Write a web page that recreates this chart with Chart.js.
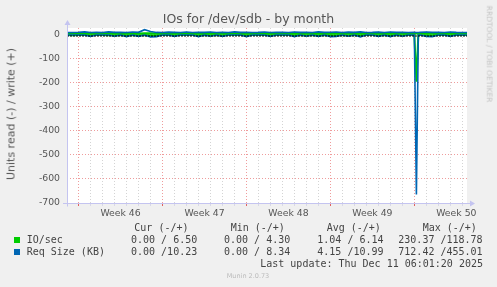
<!DOCTYPE html>
<html><head><meta charset="utf-8">
<script src="https://cdn.jsdelivr.net/npm/chart.js@4/dist/chart.umd.min.js"></script>
<style>
html,body{margin:0;padding:0;background:#f0f0f0;}
#wrap{position:relative;width:497px;height:287px;overflow:hidden;background:#f0f0f0;font-family:"DejaVu Sans",sans-serif;}
#c{position:absolute;left:0;top:0;}
.t{position:absolute;white-space:pre;line-height:1;color:#555;}
.m{font-family:"DejaVu Sans Mono",monospace;font-size:10px;color:#444;}
.sq{position:absolute;width:6px;height:6px;}
</style></head>
<body><div id="wrap">
<canvas id="c" width="497" height="287"></canvas>
<div class="t" id="title" style="left:248.5px;top:13px;font-size:12.5px;transform:translateX(-50%);">IOs for /dev/sdb - by month</div>
<div class="t" style="left:11px;top:114px;font-size:11px;transform:translate(-50%,-50%) rotate(-90deg);">Units read (-) / write (+)</div>
<div class="t" style="left:488.5px;top:53.5px;font-size:7.5px;color:#c4c4c4;transform:translate(-50%,-50%) rotate(90deg);">RRDTOOL / TOBI OETIKER</div>
<div class="t m" style="left:134.3px;top:222.5px;">Cur (-/+)</div>
<div class="t m" style="left:230.7px;top:222.5px;">Min (-/+)</div>
<div class="t m" style="left:326.7px;top:222.5px;">Avg (-/+)</div>
<div class="t m" style="left:422.7px;top:222.5px;">Max (-/+)</div>
<div class="sq" style="left:14px;top:237px;background:#00cc00;"></div>
<div class="t m" style="left:26.7px;top:235.2px;">IO/sec</div>
<div class="t m" style="left:131px;top:235.2px;">0.00 / 6.50</div>
<div class="t m" style="left:224px;top:235.2px;">0.00 / 4.30</div>
<div class="t m" style="left:317.3px;top:235.2px;">1.04 / 6.14</div>
<div class="t m" style="left:398.3px;top:235.2px;">230.37 /118.78</div>
<div class="sq" style="left:14px;top:249px;background:#0066b3;"></div>
<div class="t m" style="left:26.7px;top:246.9px;">Req Size (KB)</div>
<div class="t m" style="left:131px;top:246.9px;">0.00 /10.23</div>
<div class="t m" style="left:224px;top:246.9px;">0.00 / 8.34</div>
<div class="t m" style="left:317.3px;top:246.9px;">4.15 /10.99</div>
<div class="t m" style="left:398.3px;top:246.9px;">712.42 /455.01</div>
<div class="t m" style="right:14px;top:258.5px;">Last update: Thu Dec 11 06:01:20 2025</div>
<div class="t" style="left:248px;top:272.9px;font-size:6.5px;color:#bbbbbb;transform:translateX(-50%);">Munin 2.0.73</div>
</div>
<script>
// Sample times, in days since Monday of Week 46
const sampleDays = [
  -1.0, -0.5, 0.0, 0.5, 1.0, 1.5, 2.0, 2.5, 3.0, 3.5,
  4.0, 4.5, 5.0, 5.5, 6.0, 6.5, 7.0, 7.5, 8.0, 8.5,
  9.0, 9.5, 10.0, 10.5, 11.0, 11.5, 12.0, 12.5, 13.0, 13.5,
  14.0, 14.5, 15.0, 15.5, 16.0, 16.5, 17.0, 17.5, 18.0, 18.5,
  19.0, 19.5, 20.0, 20.5, 21.0, 21.5, 22.0, 22.5, 23.0, 23.5,
  24.0, 24.5, 25.0, 25.5, 26.0, 26.5, 27.0, 27.5, 28.0, 28.17,
  28.33, 28.5, 29.0, 29.5, 30.0, 30.5, 31.0, 31.5, 32.0, 32.5
];
// IO/sec read (plotted negative) and write (plotted positive)
const ioRead = [
  0.5, 0.8, 0.4, 0.6, 1.0, 0.5, 0.3, 0.7, 0.9, 0.4,
  1.1, 0.5, 0.8, 0.6, 1.2, 0.9, 0.4, 0.5, 0.9, 0.3,
  0.5, 0.6, 1.0, 0.4, 0.8, 0.5, 0.9, 0.4, 0.6, 0.5,
  1.0, 0.4, 0.5, 0.6, 0.9, 0.4, 0.5, 0.3, 1.0, 0.5,
  0.8, 0.4, 0.9, 0.5, 1.0, 0.9, 0.4, 0.8, 0.5, 1.1,
  0.4, 0.5, 0.9, 0.4, 1.0, 0.5, 0.8, 0.4, 0.0, 195.0,
  0.0, 0.5, 0.9, 1.0, 0.4, 0.5, 0.8, 0.4, 0.5, 0.5
];
const ioWrite = [
  6.2, 5.9, 6.4, 6.8, 6.0, 6.3, 5.8, 6.9, 6.1, 6.2,
  5.9, 6.6, 6.2, 7.4, 6.8, 6.0, 5.7, 6.4, 6.1, 5.9,
  6.7, 5.8, 6.3, 6.0, 6.5, 5.9, 6.2, 5.8, 6.7, 6.0,
  6.3, 5.9, 6.1, 6.6, 5.8, 6.4, 6.1, 5.9, 6.5, 6.0,
  6.3, 5.8, 6.8, 6.0, 6.2, 6.6, 5.9, 6.4, 6.1, 6.9,
  6.0, 6.1, 6.5, 5.8, 6.6, 6.0, 6.2, 5.9, 6.1, 6.0,
  6.0, 6.3, 6.7, 6.0, 6.2, 5.8, 6.5, 6.1, 6.5, 6.5
];
// Request size (KB) read (plotted negative) and write (plotted positive)
const reqRead = [
  0, 0, 0, 0, 6, 0, 0, 0, 5, 0,
  7, 0, 6, 0, 8, 7, 0, 0, 6, 0,
  0, 0, 7, 0, 5, 0, 6, 0, 0, 0,
  7, 0, 0, 0, 6, 0, 0, 0, 7, 0,
  5, 0, 6, 0, 7, 6, 0, 5, 0, 8,
  0, 0, 6, 0, 7, 0, 5, 0, 0, 665,
  0, 0, 6, 7, 0, 0, 6, 0, 0, 0
];
const reqWrite = [
  10.5, 10.2, 11.0, 12.8, 10.4, 11.6, 10.1, 12.9, 10.8, 11.2,
  10.3, 12.4, 11.0, 22.0, 14.5, 10.6, 10.2, 11.8, 10.9, 10.4,
  12.6, 10.1, 11.3, 10.7, 12.2, 10.5, 11.0, 10.3, 12.7, 10.6,
  11.1, 10.4, 10.9, 12.3, 10.2, 11.5, 10.8, 10.3, 12.1, 10.6,
  11.4, 10.2, 12.9, 10.7, 11.2, 12.5, 10.4, 11.7, 10.9, 13.0,
  10.5, 10.8, 11.9, 10.3, 12.4, 10.6, 11.1, 10.2, 10.9, 10.5,
  10.4, 11.3, 12.6, 10.7, 11.0, 10.3, 12.2, 10.6, 10.2, 10.2
];
const weekLabels = ['Week 46', 'Week 47', 'Week 48', 'Week 49', 'Week 50'];
const weekStartDays = [0, 7, 14, 21, 28];
const yTickValues = [0, -50, -100, -150, -200, -250, -300, -350, -400, -450, -500, -550, -600, -650, -700];

const X_MIN = -0.967, X_MAX = 32.39, Y_MIN = -700, Y_MAX = 29;
const GREEN = '#00cc00', BLUE = '#0066b3';
const MINOR = '#d4d4d4', MAJOR = '#ef9c9c', AXIS = '#c4c4f0';

const labelPos = weekStartDays.map(d => d + 3.5);
const dayTicks = [];
for (let d = Math.ceil(X_MIN); d <= Math.floor(X_MAX); d++) dayTicks.push(d);
const xTickList = dayTicks.concat(labelPos).sort((a, b) => a - b);

const pts = (arr, sign) => sampleDays.map((d, i) => ({x: d, y: sign * arr[i]}));

const bgPlugin = {
  id: 'bg',
  beforeDraw(chart) {
    const {ctx, chartArea: a} = chart;
    ctx.save(); ctx.fillStyle = '#ffffff';
    ctx.fillRect(a.left, a.top, a.right - a.left, a.bottom - a.top);
    ctx.restore();
  },
  afterDatasetsDraw(chart) {
    const {ctx, chartArea: a, scales} = chart;
    const y0 = Math.round(scales.y.getPixelForValue(0)) + 0.5;
    ctx.save();
    ctx.strokeStyle = '#000'; ctx.lineWidth = 1; ctx.setLineDash([2, 1]);
    ctx.beginPath(); ctx.moveTo(a.left, y0 + 0.5); ctx.lineTo(a.right, y0 + 0.5); ctx.stroke();
    ctx.restore();
  },
  afterDraw(chart) {
    const {ctx, chartArea: a} = chart;
    ctx.save();
    ctx.strokeStyle = AXIS; ctx.fillStyle = AXIS; ctx.lineWidth = 1;
    const L = Math.round(a.left) + 0.5, B = Math.round(a.bottom) + 0.5;
    ctx.beginPath();
    ctx.moveTo(L, B + 3); ctx.lineTo(L, a.top - 4);
    ctx.moveTo(a.left - 4, B); ctx.lineTo(a.right + 4, B);
    ctx.stroke();
    ctx.beginPath();
    ctx.moveTo(L, a.top - 8); ctx.lineTo(L - 3, a.top - 3); ctx.lineTo(L + 3, a.top - 3); ctx.closePath(); ctx.fill();
    ctx.beginPath();
    ctx.moveTo(a.right + 8, B); ctx.lineTo(a.right + 3, B - 3); ctx.lineTo(a.right + 3, B + 3); ctx.closePath(); ctx.fill();
    ctx.restore();
  }
};

const isLabel = v => labelPos.some(p => Math.abs(p - v) < 1e-6);

new Chart(document.getElementById('c'), {
  type: 'line',
  data: {
    datasets: [
      {label: 'Req Size (KB) write', data: pts(reqWrite, 1), borderColor: BLUE, borderWidth: 1.6},
      {label: 'Req Size (KB) read', data: pts(reqRead, -1), borderColor: BLUE, borderWidth: 1.6},
      {label: 'IO/sec write', data: pts(ioWrite, 1), borderColor: GREEN, borderWidth: 2},
      {label: 'IO/sec read', data: pts(ioRead, -1), borderColor: GREEN, borderWidth: 2}
    ].map(d => Object.assign(d, {pointRadius: 0, tension: 0, fill: false}))
  },
  options: {
    responsive: false, animation: false, devicePixelRatio: 1,
    layout: {padding: {left: 0, top: 28, right: 30, bottom: 0}},
    plugins: {legend: {display: false}, tooltip: {enabled: false}, title: {display: false}},
    scales: {
      x: {
        type: 'linear', min: X_MIN, max: X_MAX,
        afterBuildTicks: s => { s.ticks = xTickList.map(v => ({value: v})); },
        afterFit: s => { s.height = 84; },
        grid: {
          lineWidth: 1, drawTicks: true, tickLength: 3,
          color: c => isLabel(c.tick.value) ? 'rgba(0,0,0,0)' : (weekStartDays.includes(c.tick.value) ? MAJOR : MINOR),
          tickColor: c => isLabel(c.tick.value) ? 'rgba(0,0,0,0)' : (weekStartDays.includes(c.tick.value) ? '#e06060' : '#d8d8e8'),
          tickBorderDash: []
        },
        border: {display: false, dash: [1, 2]},
        ticks: {
          autoSkip: false, maxRotation: 0, minRotation: 0, padding: 2,
          color: '#555', font: {family: 'DejaVu Sans', size: 9.3},
          callback: v => { const k = labelPos.findIndex(p => Math.abs(p - v) < 1e-6); return k >= 0 ? weekLabels[k] : ''; }
        }
      },
      y: {
        type: 'linear', min: Y_MIN, max: Y_MAX,
        afterBuildTicks: s => { s.ticks = yTickValues.map(v => ({value: v})); },
        afterFit: s => { s.width = 67; },
        grid: {
          lineWidth: 1, drawTicks: false,
          color: c => (c.tick.value % 100 === 0) ? MAJOR : MINOR
        },
        border: {display: false, dash: [1, 2]},
        ticks: {
          padding: 7, color: '#555', font: {family: 'DejaVu Sans', size: 9.3},
          callback: v => (v % 100 === 0) ? String(v) : ''
        }
      }
    }
  },
  plugins: [bgPlugin]
});
</script>
</body></html>
